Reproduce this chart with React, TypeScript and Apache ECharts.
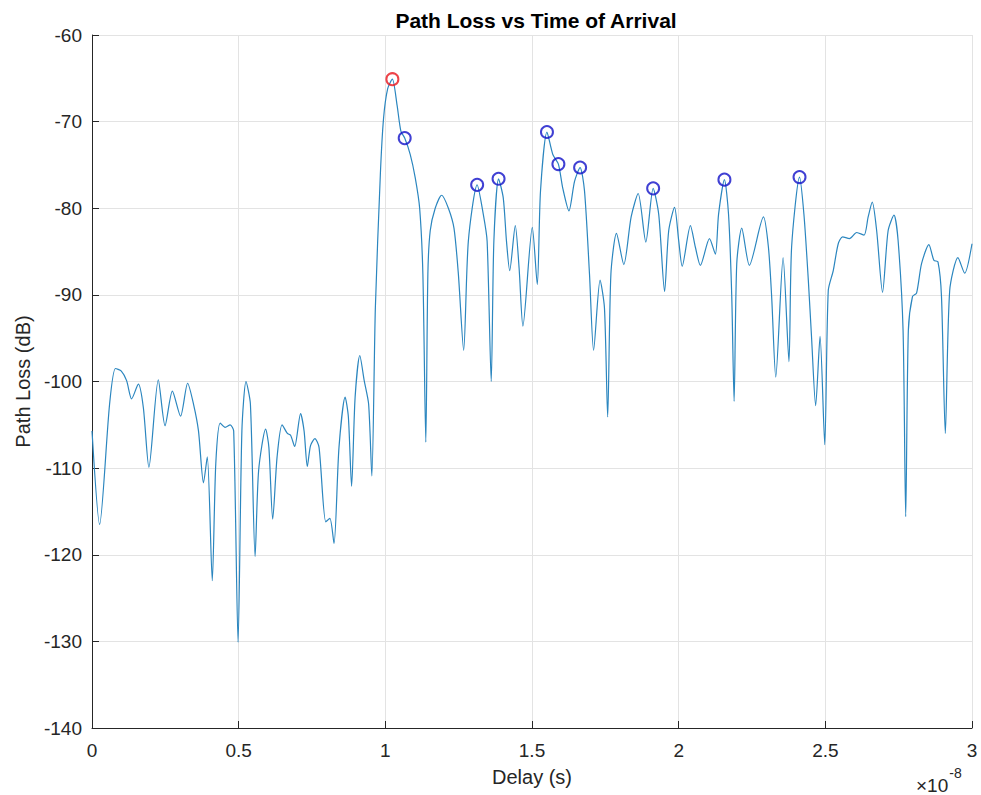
import React, { useEffect, useRef } from "react";
import * as echarts from "echarts";

// Delay in units of 1e-8 s
const delay = [
  0, 0.026, 0.06, 0.08, 0.1, 0.118, 0.135, 0.158, 0.175, 0.194, 0.226, 0.249, 0.274, 0.302, 0.326, 0.346, 0.363, 0.38, 0.393, 0.41,
  0.422, 0.437, 0.454, 0.471, 0.483, 0.498, 0.511, 0.525, 0.54, 0.556, 0.568, 0.592, 0.603, 0.616, 0.631, 0.648, 0.666, 0.677, 0.691, 0.711,
  0.723, 0.734, 0.745, 0.76, 0.774, 0.797, 0.811, 0.825, 0.842, 0.863, 0.874, 0.885, 0.897, 0.913, 0.928, 0.943, 0.954, 0.966, 0.983, 0.994,
  1.008, 1.024, 1.04, 1.053, 1.066, 1.085, 1.102, 1.117, 1.128, 1.138, 1.145, 1.153, 1.17, 1.192, 1.215, 1.234, 1.249, 1.267, 1.283, 1.313,
  1.334, 1.347, 1.361, 1.37, 1.386, 1.402, 1.413, 1.424, 1.443, 1.456, 1.469, 1.501, 1.518, 1.529, 1.551, 1.571, 1.59, 1.605, 1.626, 1.645,
  1.664, 1.679, 1.696, 1.71, 1.732, 1.747, 1.758, 1.769, 1.788, 1.813, 1.838, 1.862, 1.888, 1.913, 1.932, 1.952, 1.966, 1.986, 2.0, 2.012,
  2.04, 2.057, 2.074, 2.105, 2.125, 2.136, 2.156, 2.17, 2.181, 2.189, 2.198, 2.215, 2.241, 2.289, 2.306, 2.317, 2.331, 2.356, 2.376, 2.385,
  2.412, 2.427, 2.442, 2.453, 2.467, 2.482, 2.498, 2.51, 2.527, 2.544, 2.559, 2.582, 2.607, 2.632, 2.646, 2.66, 2.675, 2.695, 2.714, 2.734,
  2.748, 2.765, 2.774, 2.783, 2.797, 2.811, 2.828, 2.853, 2.87, 2.884, 2.896, 2.909, 2.924, 2.952, 2.975, 3.0,
];

const pathLoss = [
  -105.7, -116.5, -102.6, -98.5, -98.8, -99.9, -102.0, -100.3, -103.0, -109.9, -99.8, -105.1, -101.1, -104.0, -100.2, -102.6, -105.7, -111.7, -108.7, -123.0,
  -109.5, -104.8, -105.3, -105.0, -105.7, -130.1, -105.7, -100.0, -102.6, -120.2, -110.3, -105.5, -107.6, -115.9, -108.7, -105.0, -106.0, -106.2, -107.5, -103.7,
  -105.7, -109.8, -107.4, -106.6, -107.6, -116.2, -115.8, -118.7, -107.6, -101.8, -104.1, -112.1, -101.8, -97.0, -99.9, -102.6, -110.9, -91.5, -76.1, -69.6,
  -66.2, -65.1, -68.1, -71.1, -71.9, -73.8, -76.5, -80.0, -87.6, -107.0, -87.6, -82.6, -80.0, -78.5, -80.0, -82.3, -87.6, -96.4, -83.8, -77.3,
  -80.7, -83.8, -100.0, -83.8, -76.6, -78.8, -83.8, -87.2, -82.0, -86.9, -93.6, -82.2, -88.8, -78.0, -71.2, -73.8, -74.9, -77.7, -80.3, -76.9,
  -75.3, -78.0, -87.6, -96.4, -88.3, -91.5, -104.1, -87.6, -82.9, -86.5, -81.0, -78.3, -83.9, -77.7, -80.7, -89.6, -82.6, -79.9, -83.7, -86.7,
  -82.0, -84.5, -86.6, -83.5, -85.3, -80.7, -76.7, -80.7, -90.2, -102.3, -86.4, -82.3, -86.6, -81.0, -84.5, -90.2, -99.5, -85.7, -97.7, -84.5,
  -76.4, -80.7, -88.3, -94.9, -102.8, -94.8, -107.3, -89.5, -87.2, -84.1, -83.3, -83.5, -82.8, -83.1, -81.0, -79.3, -82.6, -89.7, -82.6, -80.8,
  -83.7, -94.1, -115.6, -94.1, -90.2, -89.8, -86.4, -84.2, -86.0, -86.2, -90.2, -106.0, -89.5, -85.7, -87.5, -84.1,
];

const maxPeakDelay = [1.024];
const maxPeakLoss = [-65.1];

const peakDelay = [1.066, 1.313, 1.386, 1.551, 1.59, 1.664, 1.913, 2.156, 2.412];
const peakLoss = [-71.9, -77.3, -76.6, -71.2, -74.9, -75.3, -77.7, -76.7, -76.4];

const xTicks = [0, 0.5, 1, 1.5, 2, 2.5, 3];
const yTicks = [-140, -130, -120, -110, -100, -90, -80, -70, -60];

const FONT = "'Liberation Sans', Arial, Helvetica, sans-serif";
const AXIS_COLOR = "#262626";

export default function App() {
  const ref = useRef<HTMLDivElement>(null);

  useEffect(() => {
    if (!ref.current) return;
    const chart = echarts.init(ref.current, undefined, { renderer: "svg" });

    const lineData = delay.map((d, i) => [d, pathLoss[i]]);
    const maxData = maxPeakDelay.map((d, i) => [d, maxPeakLoss[i]]);
    const peakData = peakDelay.map((d, i) => [d, peakLoss[i]]);

    chart.setOption({
      animation: false,
      backgroundColor: "#ffffff",
      title: {
        text: "Path Loss vs Time of Arrival",
        left: 531,
        textAlign: "center",
        top: 5,
        textStyle: {
          fontFamily: FONT,
          fontWeight: "bold",
          fontSize: 21,
          color: "#000000",
        },
      },
      grid: { left: 92, right: 9, top: 35, bottom: 67, containLabel: false },
      xAxis: {
        type: "value",
        min: xTicks[0],
        max: xTicks[xTicks.length - 1],
        interval: 0.5,
        name: "Delay (s)",
        nameLocation: "middle",
        nameGap: 39,
        nameTextStyle: { fontFamily: FONT, fontSize: 20, color: AXIS_COLOR },
        axisLine: { show: true, onZero: false, lineStyle: { color: AXIS_COLOR, width: 1 } },
        axisTick: { show: true, inside: true, length: 7, lineStyle: { color: AXIS_COLOR } },
        axisLabel: {
          fontFamily: FONT,
          fontSize: 19,
          color: AXIS_COLOR,
          margin: 13,
          formatter: (v: number) => String(v),
        },
        splitLine: { show: true, lineStyle: { color: "#e3e3e3", width: 1 } },
      },
      yAxis: {
        type: "value",
        min: yTicks[0],
        max: yTicks[yTicks.length - 1],
        interval: 10,
        name: "Path Loss (dB)",
        nameLocation: "middle",
        nameGap: 58,
        nameTextStyle: { fontFamily: FONT, fontSize: 20, color: AXIS_COLOR },
        axisLine: { show: true, onZero: false, lineStyle: { color: AXIS_COLOR, width: 1 } },
        axisTick: { show: true, inside: true, length: 7, lineStyle: { color: AXIS_COLOR } },
        axisLabel: { fontFamily: FONT, fontSize: 19, color: AXIS_COLOR, margin: 10 },
        splitLine: { show: true, lineStyle: { color: "#e3e3e3", width: 1 } },
      },
      graphic: [
        {
          type: "text",
          left: 916,
          top: 766,
          style: {
            text: "{a|×10}{b|-8}",
            rich: {
              a: { fontFamily: FONT, fontSize: 19, fill: AXIS_COLOR, padding: [10, 0, 0, 0] },
              b: { fontFamily: FONT, fontSize: 14, fill: AXIS_COLOR, verticalAlign: "top", padding: [0, 0, 10, 1] },
            },
          },
        },
      ],
      series: [
        {
          type: "line",
          data: lineData,
          showSymbol: false,
          smooth: 0.25,
          lineStyle: { color: "#2b86bf", width: 1.2 },
          z: 2,
        },
        {
          type: "scatter",
          data: maxData,
          symbol: "circle",
          symbolSize: 12,
          itemStyle: { color: "rgba(0,0,0,0)", borderColor: "#e8141b", borderWidth: 2 },
          z: 3,
        },
        {
          type: "scatter",
          data: peakData,
          symbol: "circle",
          symbolSize: 12,
          itemStyle: { color: "rgba(0,0,0,0)", borderColor: "#1010c8", borderWidth: 2 },
          z: 3,
        },
      ],
    });

    return () => chart.dispose();
  }, []);

  return <div ref={ref} style={{ width: 981, height: 795, position: "absolute", left: 0, top: 0 }} />;
}
